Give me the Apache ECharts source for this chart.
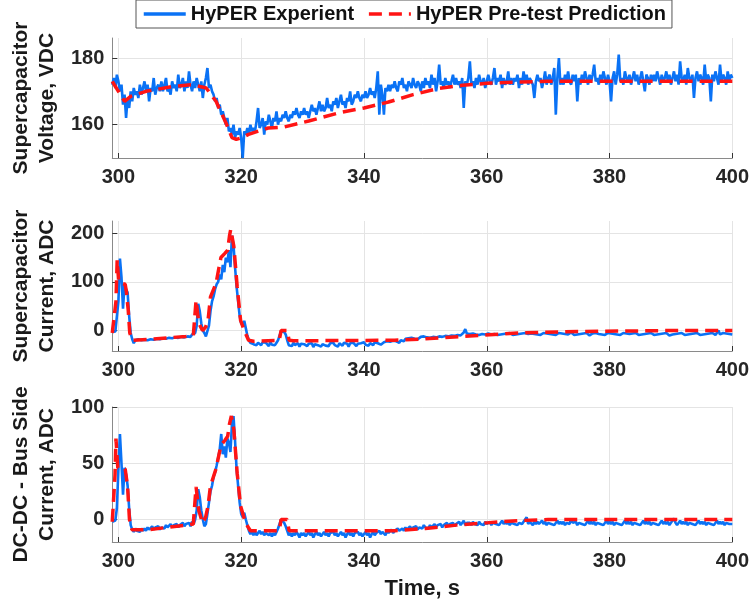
<!DOCTYPE html>
<html>
<head>
<meta charset="utf-8">
<script src="https://cdn.jsdelivr.net/npm/echarts@6/dist/echarts.min.js"></script>
<style>
  html, body { margin: 0; padding: 0; background: #fff; }
  #chart { width: 752px; height: 607px; }
</style>
</head>
<body>
<div id="chart"></div>
<script>
// sampling of the measured traces
const t0 = 299
const dt = 0.25

const xTicks = [300, 320, 340, 360, 380, 400]
const voltTicks = [160, 180]
const supTicks = [0, 100, 200]
const busTicks = [0, 50, 100]

// Supercapacitor voltage, measured (one row = one second)
const voltMeas = [
  172, 174, 171, 175, 173,
  170, 172, 166, 169,
  162, 168, 165, 170,
  167, 171, 169, 170,
  168, 172, 169, 171,
  173, 170, 172, 167,
  171, 170, 174, 169,
  171, 172, 170, 173,
  170, 172, 174, 170,
  171, 169, 173, 171,
  172, 170, 175, 171,
  172, 174, 170, 173,
  171, 176, 172, 170,
  173, 171, 174, 172,
  170, 173, 168, 172,
  174, 177, 171, 172,
  170, 169, 167, 168,
  165, 166, 163, 164,
  162, 160, 162, 158,
  159, 157, 160, 156,
  158, 157, 159, 156,
  150, 158, 157, 159,
  157, 160, 158, 159,
  158, 161, 165, 159,
  160, 162, 157, 161,
  160, 163, 161, 159,
  162, 161, 164, 160,
  162, 161, 163, 162,
  164, 162, 161, 163,
  162, 164, 163, 165,
  163, 162, 164, 163,
  165, 163, 164, 162,
  164, 166, 164, 165,
  163, 165, 167, 164,
  166, 164, 165, 168,
  165, 166, 164, 167,
  166, 168, 165, 167,
  169, 166, 167, 165,
  168, 167, 170, 166,
  167, 169, 168, 170,
  168, 167, 169, 168,
  170, 168, 169, 171,
  169, 170, 168, 171,
  176, 163, 172, 169,
  163, 171, 170, 172,
  170, 172, 171, 173,
  171, 170, 173, 172,
  174, 171, 172, 170,
  173, 172, 171, 174,
  172, 171, 173, 172,
  170, 173, 171, 174,
  172, 173, 171, 175,
  172, 174, 170, 173,
  178, 172, 173, 171,
  174, 172, 173, 171,
  173, 175, 172, 174,
  172, 173, 171, 174,
  165, 173, 172, 174,
  179, 172, 173, 171,
  174, 172, 175, 173,
  172, 174, 171, 173,
  175, 173, 172, 174,
  177, 172, 174, 173,
  175, 171, 174, 172,
  173, 176, 172, 174,
  172, 174, 173, 175,
  171, 174, 172, 176,
  173, 175, 172, 174,
  174, 172, 168, 173,
  175, 173, 174, 171,
  173, 176, 172, 174,
  175, 172, 174, 177,
  163, 174, 180, 172,
  174, 172, 175, 173,
  176, 173, 172, 175,
  173, 175, 167, 174,
  172, 175, 173, 176,
  174, 172, 175, 173,
  175, 178, 173, 174,
  172, 175, 173, 176,
  174, 172, 175, 173,
  167, 174, 176, 172,
  175, 181, 173, 174,
  172, 176, 174, 173,
  175, 172, 174, 176,
  173, 175, 172, 174,
  176, 173, 170, 175,
  174, 172, 175, 173,
  175, 173, 176, 174,
  172, 175, 173, 174,
  176, 173, 175, 172,
  174, 176, 173, 175,
  172, 179, 174, 173,
  175, 172, 177, 174,
  173, 175, 168, 174,
  176, 173, 175, 174,
  172, 178, 173, 175,
  174, 167, 175, 173,
  176, 174, 172, 178,
  173, 175, 174, 172,
  176, 173, 175, 174
]

// Supercapacitor current, measured
const supMeas = [
  -3, -4, -2, -3, 60,
  148, 110, 45, 95,
  85, 78, 30, -5,
  -18, -26, -20, -22,
  -18, -22, -20, -17,
  -19, -16, -20, -17,
  -18, -15, -19, -16,
  -17, -14, -18, -15,
  -16, -13, -17, -14,
  -15, -12, -16, -13,
  -14, -11, -15, -12,
  -13, -10, -14, -11,
  -12, -9, -13, -8,
  -10, -5, 10, 55,
  40, 15, 0, -5,
  -12, -15, 10, 40,
  60, 70, 85, 95,
  100, 115, 105, 135,
  120, 150, 140, 165,
  130, 195, 175, 130,
  90, 60, 30, 15,
  10, 20, 5, -10,
  -20, -25, -22, -28,
  -24, -30, -25, -27,
  -30, -24, -28, -25,
  -27, -32, -24, -29,
  -26, -30, -25, -20,
  -10, -2, 0, -3,
  -8, -20, -30, -27,
  -32, -25, -30, -28,
  -26, -33, -27, -30,
  -28, -25, -32, -27,
  -30, -26, -34, -28,
  -25, -30, -27, -33,
  -28, -24, -31, -27,
  -32, -26, -29, -25,
  -30, -27, -33, -26,
  -28, -31, -25, -29,
  -27, -33, -26, -30,
  -25, -29, -32, -27,
  -30, -26, -28, -24,
  -29, -25, -31, -26,
  -27, -30, -24, -28,
  -26, -23, -29, -25,
  -24, -28, -22, -26,
  -23, -27, -21, -25,
  -22, -19, -25, -20,
  -18, -22, -17, -20,
  -16, -19, -15, -18,
  -17, -14, -18, -15,
  -13, -16, -12, -15,
  -14, -11, -15, -12,
  -13, -10, -14, -11,
  -12, -9, -13, -10,
  -11, -8, -12, -9,
  -10, -7, -11, -8,
  -9, -6, -10, -7,
  -4, 3, -6, -8,
  -7, -10, -6, -9,
  -8, -5, -9, -6,
  -7, -4, -8, -5,
  -6, -4, -8, -5,
  -7, -5, -9, -6,
  -8, -5, -7, -9,
  -6, -8, -5, -7,
  -9, -6, -8, -5,
  -7, -9, -6, -8,
  -5, -2, -7, -8,
  -6, -9, -7, -5,
  -8, -6, -9, -7,
  -5, -8, -6, -9,
  -7, -5, -8, -6,
  -9, -7, -5, -8,
  -6, -9, -7, -5,
  -8, -6, -4, -7,
  -9, -6, -8, -5,
  -7, -9, -6, -8,
  -5, -8, -10, -7,
  -6, -8, -5, -9,
  -7, -5, -8, -6,
  -9, -7, -5, -8,
  -6, -9, -7, -5,
  -8, -6, -9, -7,
  -5, -8, -6, -9,
  -7, -10, -6, -8,
  -5, -7, -9, -6,
  -8, -5, -7, -9,
  -6, -8, -5, -7,
  -9, -6, -8, -5,
  -7, -9, -6, -8,
  -5, -7, -10, -6,
  -8, -5, -7, -9,
  -6, -8, -5, -7,
  -9, -6, -8, -4,
  -7, -9, -6, -8,
  -5, -7, -9, -6,
  -8, -5, -7, -10,
  -6, -8, -5, -7,
  -9, -6, 0, -8,
  -7, -5, -8, -6,
  -9, -7, -6, -8
]

// DC-DC bus side current, measured
const busMeas = [
  -2, -3, -1, 10, 45,
  76, 50, 22, 46,
  40, 30, 10, -5,
  -9, -11, -8, -10,
  -9, -11, -8, -10,
  -8, -10, -7, -9,
  -8, -6, -9, -7,
  -8, -6, -9, -7,
  -6, -8, -5, -7,
  -6, -4, -7, -5,
  -6, -4, -7, -5,
  -5, -3, -6, -4,
  -5, -3, -6, -2,
  -4, 0, 8, 27,
  20, 8, 0, -6,
  -4, 5, 15, 25,
  30, 38, 42, 48,
  55, 62, 76, 58,
  65, 55, 72, 68,
  60, 85, 92, 70,
  45, 30, 15, 5,
  2, 6, 0, -5,
  -10, -13, -11, -14,
  -11, -14, -12, -10,
  -13, -11, -14, -12,
  -11, -14, -12, -15,
  -12, -14, -11, -8,
  -4, 0, -1, -3,
  -6, -10, -14, -12,
  -15, -12, -14, -11,
  -13, -16, -12, -14,
  -12, -15, -13, -11,
  -14, -12, -16, -13,
  -11, -14, -12, -15,
  -13, -11, -14, -12,
  -15, -12, -13, -11,
  -14, -12, -15, -13,
  -11, -14, -12, -16,
  -13, -11, -14, -12,
  -15, -12, -13, -11,
  -14, -12, -15, -13,
  -11, -14, -12, -16,
  -13, -11, -14, -12,
  -12, -10, -13, -11,
  -12, -14, -10, -12,
  -11, -9, -12, -10,
  -11, -8, -10, -9,
  -8, -10, -7, -9,
  -8, -6, -9, -7,
  -8, -6, -9, -7,
  -6, -8, -5, -7,
  -6, -8, -5, -7,
  -6, -4, -7, -5,
  -6, -4, -7, -5,
  -5, -3, -6, -4,
  -5, -3, -6, -4,
  -4, -2, -5, -3,
  -1, -5, -3, -4,
  -3, -5, -2, -4,
  -3, -5, -2, -4,
  -3, -5, -2, -4,
  -4, -2, -5, -3,
  -2, -4, -3, -5,
  -3, -1, -4, -2,
  -4, -2, -5, -3,
  -2, -4, -3, -5,
  -3, -2, -4, -2,
  -3, 2, -4, -2,
  -3, -5, -2, -4,
  -2, -4, -3, -1,
  -4, -2, -5, -3,
  -2, -4, -3, -5,
  -3, -1, -4, -2,
  -4, -2, -5, -3,
  -2, -4, 1, -3,
  -4, -2, -5, -3,
  -2, -4, -3, -5,
  -3, -1, -4, -2,
  -4, -2, -5, -3,
  -2, -4, -3, -5,
  -3, -1, -4, -2,
  -4, -2, -5, -3,
  -2, -4, -3, -5,
  -3, -1, -4, -2,
  -4, -2, -5, -3,
  -2, -4, -3, -5,
  -3, -1, -4, -2,
  -4, -2, -5, -3,
  -2, -4, -3, -5,
  -3, -1, -4, -2,
  -4, -2, -5, -3,
  -2, 1, -3, -5,
  -3, -1, -4, -2,
  -4, -2, -5, -3,
  -2, -4, -3, -5,
  -3, -1, -4, -2,
  -4, -2, -5, -3,
  -2, -4, -3, -5,
  -3, -1, -4, -2,
  -4, -2, -5, -3,
  -2, -4, -3, -4
]

// pre-test predictions (time, value)
const voltPredT = [299, 300, 301, 302, 304.5, 309, 312, 314.3, 315.9, 317.5, 318.5, 319.2, 320, 321.2, 324.4, 327, 331, 336, 340, 344, 348, 352, 356, 360, 365, 370, 400]
const voltPredV = [173, 170, 167, 168.5, 170, 171.5, 172, 171, 167, 160.6, 156.1, 155.6, 156, 157.1, 159, 159.3, 161.1, 163.6, 165, 166.8, 169, 170.8, 171.8, 172.4, 172.8, 173, 173]

const supPredT = [299, 299.3, 299.6, 299.8, 300.05, 300.5, 301.1, 301.3, 301.6, 301.85, 302.3, 305, 308, 311, 312.2, 312.65, 313.1, 313.7, 314.2, 314.6, 315.0, 315.9, 316.7, 317.3, 317.8, 318.1, 318.3, 318.8, 319.35, 319.9, 320.5, 321.2, 322, 326.2, 326.5, 327.5, 327.8, 328.5, 345, 350, 356, 365, 375, 390, 400]
const supPredV = [-5, -4, 60, 145, 100, 97, 95, 80, 42, -5, -20, -18, -15, -12, -10, 62, 15, 0, 7, 21, 69, 97, 150, 158, 165, 195, 208, 173, 90, 21, 0, -20, -22, -20, 0, 0, -20, -21, -20, -17, -12, -5, -2, 0, 0]

const busPredT = [299, 299.2, 299.45, 299.6, 299.9, 300.5, 301.1, 301.5, 301.8, 302.2, 305, 308, 311, 312.2, 312.65, 313.1, 313.7, 314.2, 314.6, 315.0, 315.9, 316.7, 317.3, 317.8, 318.1, 318.4, 318.8, 319.35, 319.9, 320.7, 321.5, 326.2, 326.5, 327.5, 327.8, 328.5, 345, 350, 355, 360, 365, 370, 400]
const busPredV = [-2, -1, 40, 72, 46, 45, 45, 29, 0, -9, -9, -7, -5, -4, 29, 8, -3, 2, 12, 30, 45, 66, 70, 74, 85, 92, 80, 41, 12, -3, -10, -10, 0, 0, -10, -10, -10, -8, -5, -3, -1, 0, 0]

const font = 'Liberation Sans, Arial, Helvetica, sans-serif'
const blue = '#0a72f5'
const red = '#ff1414'

function sampled (vals) {
  return vals.map((v, i) => [t0 + i * dt, v])
}
function paired (ts, vs) {
  return ts.map((t, i) => [t, vs[i]])
}

function xAxis (gi, name) {
  return {
    type: 'value',
    gridIndex: gi,
    min: 299,
    max: 400,
    name: name || '',
    nameLocation: 'middle',
    nameGap: 36,
    nameTextStyle: { fontSize: 22, fontWeight: 'bold', color: '#1a1a1a', fontFamily: font },
    axisLine: { show: true, onZero: false, lineStyle: { color: '#8a8a8a', width: 1 } },
    axisTick: { show: true, inside: true, length: 5, customValues: xTicks, lineStyle: { color: '#333' } },
    axisLabel: { customValues: xTicks, margin: 9, fontSize: 20, fontWeight: 'bold', color: '#262626', fontFamily: font },
    splitLine: { show: true, lineStyle: { color: '#e4e4e4', width: 1 } }
  }
}

function yAxis (gi, name, min, max, ticks) {
  return {
    type: 'value',
    gridIndex: gi,
    min: min,
    max: max,
    name: name,
    nameLocation: 'middle',
    nameRotate: 90,
    nameGap: 46,
    nameTextStyle: { fontSize: 21, fontWeight: 'bold', color: '#1a1a1a', fontFamily: font, lineHeight: 26 },
    axisLine: { show: true, lineStyle: { color: '#8a8a8a', width: 1 } },
    axisTick: { show: true, inside: true, length: 5, customValues: ticks, lineStyle: { color: '#333' } },
    axisLabel: { customValues: ticks, margin: 8, fontSize: 20, fontWeight: 'bold', color: '#262626', fontFamily: font },
    splitLine: { show: true, lineStyle: { color: '#e4e4e4', width: 1 } }
  }
}

function meas (gi, data) {
  return {
    name: 'HyPER Experient',
    type: 'line',
    xAxisIndex: gi,
    yAxisIndex: gi,
    data: data,
    symbol: 'none',
    sampling: null,
    lineStyle: { color: blue, width: 2.6 },
    itemStyle: { color: blue }
  }
}

function pred (gi, data) {
  return {
    name: 'HyPER Pre-test Prediction',
    type: 'line',
    xAxisIndex: gi,
    yAxisIndex: gi,
    data: data,
    symbol: 'none',
    z: 3,
    lineStyle: { color: red, width: 3.5, type: [13, 7] },
    itemStyle: { color: red }
  }
}

const chart = echarts.init(document.getElementById('chart'), null, { renderer: 'canvas' })
chart.setOption({
  backgroundColor: '#fff',
  animation: false,
  textStyle: { fontFamily: font },
  legend: {
    left: 136,
    top: 0,
    padding: [4, 6, 4, 6],
    itemWidth: 42,
    itemHeight: 20,
    itemGap: 13,
    borderColor: '#555',
    borderWidth: 1,
    backgroundColor: '#fff',
    itemStyle: { opacity: 0 },
    lineStyle: { width: 3.5 },
    data: ['HyPER Experient', 'HyPER Pre-test Prediction'],
    textStyle: { fontSize: 20, fontWeight: 'bold', color: '#111', fontFamily: font }
  },
  grid: [
    { left: 105, width: 628, top: 38, height: 120 },
    { left: 105, width: 628, top: 221, height: 130 },
    { left: 105, width: 628, top: 407, height: 135 }
  ],
  xAxis: [xAxis(0), xAxis(1), xAxis(2, 'Time, s')],
  yAxis: [
    yAxis(0, 'Supercapacitor\nVoltage, VDC', 150, 186, voltTicks),
    yAxis(1, 'Supercapacitor\nCurrent, ADC', -42, 225, supTicks),
    yAxis(2, 'DC-DC - Bus Side\nCurrent, ADC', -20, 100, busTicks)
  ],
  series: [
    meas(0, sampled(voltMeas)),
    pred(0, paired(voltPredT, voltPredV)),
    meas(1, sampled(supMeas)),
    pred(1, paired(supPredT, supPredV)),
    meas(2, sampled(busMeas)),
    pred(2, paired(busPredT, busPredV))
  ]
})
</script>
</body>
</html>
